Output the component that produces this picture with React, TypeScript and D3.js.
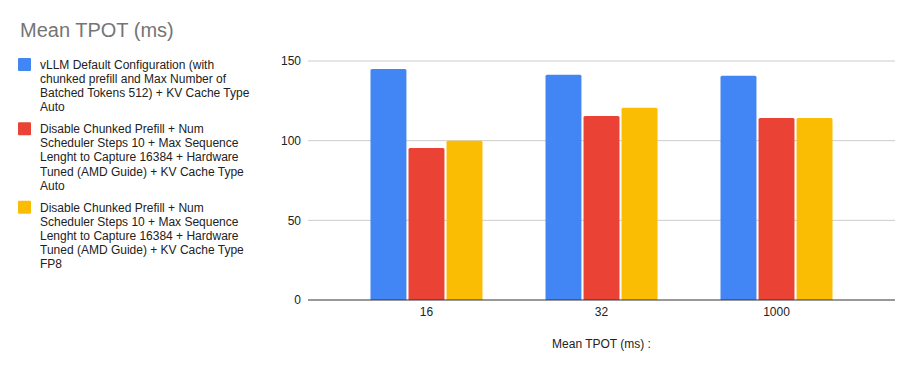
import { useMemo } from 'react';
import * as d3 from 'd3';

const categories = ['16', '32', '1000'];

const seriesLabels = [
    ['vLLM Default Configuration (with', 'chunked prefill and Max Number of', 'Batched Tokens 512) + KV Cache Type', 'Auto'],
    ['Disable Chunked Prefill + Num', 'Scheduler Steps 10 + Max Sequence', 'Lenght to Capture 16384 + Hardware', 'Tuned (AMD Guide) + KV Cache Type', 'Auto'],
    ['Disable Chunked Prefill + Num', 'Scheduler Steps 10 + Max Sequence', 'Lenght to Capture 16384 + Hardware', 'Tuned (AMD Guide) + KV Cache Type', 'FP8'],
];

const defaultConfig = [145.0, 141.4, 140.8];
const noChunkedAuto = [95.4, 115.5, 114.2];
const noChunkedFp8 = [99.9, 120.7, 114.2];

const yTicks = [0, 50, 100, 150];
const colors = ['#4285F4', '#EA4335', '#FBBC04'];

const WIDTH = 913;
const HEIGHT = 371;
const FONT = 'Arial, "Liberation Sans", sans-serif';

const App = () => {
    const margin = { top: 61, right: 18, bottom: 71, left: 308 };
    const innerWidth = WIDTH - margin.left - margin.right;
    const innerHeight = HEIGHT - margin.top - margin.bottom;

    const series = [defaultConfig, noChunkedAuto, noChunkedFp8];

    const x = useMemo(() => d3.scaleBand<string>()
        .domain(categories)
        .range([0, innerWidth])
        .paddingInner(0)
        .paddingOuter(0.177), [innerWidth]);

    const groupWidth = 112;
    const xInner = useMemo(() => d3.scaleBand<number>()
        .domain(series.map((_, i) => i))
        .range([0, groupWidth])
        .paddingInner(0.055), []);

    const y = useMemo(() => d3.scaleLinear()
        .domain([0, 150])
        .range([innerHeight, 0]), [innerHeight]);

    // legend layout
    const lineH = 14.2;
    let cursor = 64.5;
    const legendItems = seriesLabels.map((lines, i) => {
        const top = cursor;
        cursor += lines.length * lineH + 7.5;
        return { lines, top, color: colors[i] };
    });

    return (
        <svg width={WIDTH} height={HEIGHT} style={{ position: 'fixed', left: 0, top: 0 }} fontFamily={FONT}>
            <rect width={WIDTH} height={HEIGHT} fill="#fff" />
            <text x={20} y={37} fontSize={20} fill="#757575">Mean TPOT (ms)</text>

            {legendItems.map((item, i) => (
                <g key={i}>
                    <rect x={18} y={item.top - 6.5} width={13} height={13} rx={1} fill={item.color} />
                    {item.lines.map((ln, j) => (
                        <text key={j} x={40} y={item.top + j * lineH} dy="0.35em" fontSize={12} fill="#222">{ln}</text>
                    ))}
                </g>
            ))}

            <g transform={`translate(${margin.left},${margin.top})`}>
                {yTicks.map(t => (
                    <g key={t}>
                        {t !== 0 && <line x1={0} x2={innerWidth} y1={y(t)} y2={y(t)} stroke="#cccccc" strokeWidth={1} />}
                        <text x={-7} y={y(t)} dy="0.35em" textAnchor="end" fontSize={12} fill="#222">{t}</text>
                    </g>
                ))}

                {categories.map((c, ci) => {
                    const gx = (x(c) ?? 0) + x.bandwidth() / 2 - groupWidth / 2;
                    return (
                        <g key={c} transform={`translate(${gx},0)`}>
                            {series.map((vals, si) => {
                                const bx = xInner(si) ?? 0;
                                const bw = xInner.bandwidth();
                                const top = y(vals[ci]);
                                const h = innerHeight - top;
                                const r = 1.5;
                                const path = `M${bx},${innerHeight}V${top + r}Q${bx},${top} ${bx + r},${top}H${bx + bw - r}Q${bx + bw},${top} ${bx + bw},${top + r}V${innerHeight}Z`;
                                return h > 0 ? <path key={si} d={path} fill={colors[si]} /> : null;
                            })}
                            <text x={groupWidth / 2} y={innerHeight + 16} textAnchor="middle" fontSize={12} fill="#222">{c}</text>
                        </g>
                    );
                })}

                <line x1={0} x2={innerWidth} y1={innerHeight} y2={innerHeight} stroke="#333" strokeWidth={1.2} />

                <text x={innerWidth / 2} y={innerHeight + 48} textAnchor="middle" fontSize={12} fill="#222">Mean TPOT (ms) :</text>
            </g>
        </svg>
    );
};

export default App;
